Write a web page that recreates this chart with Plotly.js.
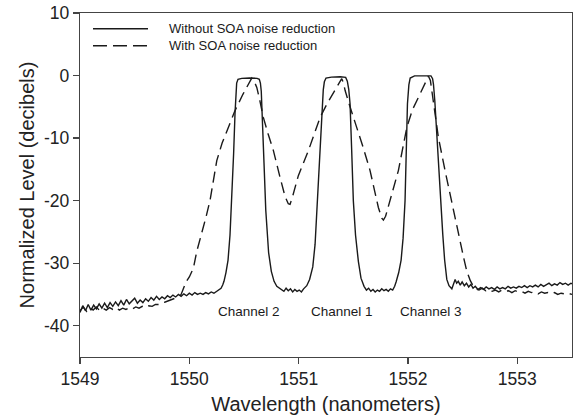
<!DOCTYPE html>
<html>
<head>
<meta charset="utf-8">
<script src="https://cdn.plot.ly/plotly-3.0.1.min.js"></script>
<style>html,body{margin:0;padding:0;background:#fff;}#chart{width:576px;height:417px;}</style>
</head>
<body>
<div id="chart"></div>
<script>
// Without SOA noise reduction (solid)
const solidX = [
1549.000,1549.025,1549.050,1549.075,1549.100,1549.125,1549.150,1549.175,1549.200,1549.225,
1549.250,1549.275,1549.300,1549.325,1549.350,1549.375,1549.400,1549.425,1549.450,1549.475,
1549.500,1549.525,1549.550,1549.575,1549.600,1549.625,1549.650,1549.675,1549.700,1549.725,
1549.750,1549.775,1549.800,1549.825,1549.850,1549.875,1549.900,1549.925,1549.950,1549.975,
1550.000,1550.025,1550.050,1550.075,1550.100,1550.125,1550.150,1550.175,1550.200,1550.225,
1550.250,1550.270,
1550.290,1550.305,1550.317,1550.335,1550.354,1550.372,1550.388,1550.405,1550.418,1550.426,
1550.433,1550.445,1550.480,1550.550,1550.620,1550.640,1550.650,1550.658,1550.666,1550.683,
1550.699,1550.712,1550.725,1550.750,1550.775,1550.800,1550.825,1550.845,
1550.865,1550.885,1550.905,1550.925,1550.945,1550.965,1550.985,1551.005,1551.025,1551.045,1551.060,
1551.074,1551.100,1551.129,1551.150,1551.171,1551.190,1551.211,1551.225,1551.235,1551.250,
1551.300,1551.380,1551.430,1551.445,1551.458,1551.470,1551.485,1551.500,1551.520,1551.546,
1551.570,1551.598,1551.620,
1551.640,1551.660,1551.680,1551.700,1551.720,1551.740,1551.760,1551.780,1551.800,1551.820,1551.840,1551.860,
1551.878,1551.891,1551.915,1551.937,1551.955,1551.973,1551.985,1551.995,1552.008,1552.020,
1552.060,1552.150,1552.210,1552.225,1552.233,1552.245,1552.264,1552.285,1552.303,1552.318,
1552.335,1552.355,1552.375,1552.401,1552.415,1552.431,1552.445,1552.460,1552.478,1552.495,
1552.515,1552.535,1552.555,1552.575,1552.595,1552.615,1552.640,
1552.665,1552.690,1552.715,1552.740,1552.765,1552.790,1552.815,1552.840,1552.865,1552.890,
1552.915,1552.940,1552.965,1552.990,1553.015,1553.040,1553.065,1553.090,1553.115,1553.140,
1553.165,1553.190,1553.215,1553.240,1553.265,1553.290,1553.315,1553.340,1553.365,1553.390,
1553.415,1553.440,1553.465,1553.490,1553.500];
const solidY = [
-37.9,-36.8,-37.6,-36.6,-37.5,-36.7,-37.3,-36.5,-37.2,-36.4,
-37.1,-36.3,-36.9,-36.2,-36.8,-36.0,-36.7,-35.8,-36.5,-36.1,
-35.6,-36.4,-35.9,-36.3,-35.7,-36.1,-35.5,-35.9,-35.3,-35.8,
-35.4,-35.7,-35.2,-35.5,-35.1,-35.4,-35.0,-35.3,-34.9,-35.2,
-34.8,-35.1,-34.7,-35.0,-34.8,-35.0,-34.7,-34.9,-34.6,-34.8,
-34.5,-34.3,
-34.0,-33.5,-32.9,-31.5,-29.5,-25.5,-20.0,-12.5,-6.0,-2.5,
-1.2,-0.6,-0.45,-0.4,-0.45,-0.6,-1.2,-2.5,-5.5,-14.0,
-21.5,-25.5,-28.3,-31.3,-32.9,-33.7,-34.0,-34.2,
-34.5,-34.0,-34.4,-34.1,-34.6,-34.2,-34.5,-34.3,-34.6,-34.1,-33.9,
-33.6,-32.6,-30.6,-27.0,-20.0,-12.5,-5.5,-2.3,-1.0,-0.4,
-0.25,-0.2,-0.3,-0.9,-2.2,-4.5,-12.0,-20.0,-25.5,-29.7,
-32.4,-33.7,-34.3,
-34.0,-34.5,-34.2,-34.6,-34.3,-34.5,-34.1,-34.4,-34.2,-34.5,-34.1,-34.3,
-33.7,-33.0,-31.5,-29.5,-26.0,-20.0,-12.0,-4.5,-1.5,-0.4,
-0.05,0.0,-0.05,-0.5,-1.4,-4.0,-9.9,-16.0,-21.7,-25.4,
-29.5,-32.6,-33.6,-34.1,-33.4,-32.6,-33.2,-32.9,-33.5,-33.0,
-33.6,-33.2,-33.8,-33.4,-34.0,-33.7,-34.2,
-33.9,-34.2,-33.8,-34.1,-33.9,-34.2,-33.8,-34.1,-33.9,-34.1,
-33.7,-34.0,-33.8,-34.0,-33.7,-33.9,-33.6,-33.9,-33.6,-33.8,
-33.5,-33.8,-33.4,-33.7,-33.5,-33.2,-33.6,-33.3,-33.5,-33.1,
-33.4,-33.2,-33.5,-33.2,-33.3];

// With SOA noise reduction (dashed)
const dashedX = [
1549.000,1549.030,1549.060,1549.090,1549.120,1549.150,1549.180,1549.210,1549.240,1549.270,
1549.300,1549.330,1549.360,1549.390,1549.420,1549.450,1549.480,1549.510,1549.540,1549.570,
1549.600,1549.630,1549.660,1549.690,1549.720,1549.750,1549.780,1549.810,1549.840,1549.870,
1549.900,1549.925,
1549.945,1549.970,1550.000,1550.037,1550.068,1550.113,1550.150,1550.189,1550.220,1550.251,
1550.300,1550.357,1550.418,1550.490,1550.540,1550.571,1550.595,1550.617,1550.645,1550.677,
1550.720,1550.769,1550.830,1550.875,1550.905,1550.921,1550.945,1550.997,1551.089,1551.196,
1551.260,1551.317,1551.365,1551.394,1551.410,1551.425,1551.470,1551.532,1551.590,1551.653,
1551.700,1551.729,1551.760,1551.775,1551.795,1551.836,1551.912,1551.989,1552.040,1552.095,
1552.150,1552.187,1552.205,1552.218,1552.245,1552.278,1552.339,1552.404,1552.440,1552.477,
1552.510,1552.538,1552.570,1552.598,1552.625,
1552.650,1552.680,1552.710,1552.740,1552.770,1552.800,1552.830,1552.860,1552.890,1552.920,
1552.950,1552.980,1553.010,1553.040,1553.070,1553.100,1553.130,1553.160,1553.190,1553.220,
1553.250,1553.280,1553.310,1553.340,1553.370,1553.400,1553.430,1553.460,1553.500];
const dashedY = [
-37.6,-37.0,-37.7,-37.1,-37.5,-37.0,-37.6,-37.2,-37.5,-37.1,
-37.4,-37.1,-37.5,-37.2,-37.4,-37.1,-37.3,-37.0,-37.2,-36.9,
-37.1,-36.8,-36.9,-36.6,-36.6,-36.3,-36.2,-36.0,-35.9,-35.6,
-35.4,-35.0,
-34.2,-33.0,-32.2,-30.8,-28.1,-25.4,-22.8,-20.0,-16.8,-13.6,
-10.8,-8.3,-5.6,-3.0,-1.3,-0.4,-1.0,-1.9,-4.0,-6.7,
-9.3,-12.0,-16.3,-19.3,-20.5,-20.6,-19.3,-16.0,-12.0,-6.7,
-4.5,-2.7,-1.3,-0.5,-1.2,-2.4,-5.0,-8.3,-11.5,-15.2,
-18.8,-21.1,-22.8,-23.1,-22.5,-20.0,-15.2,-8.3,-5.5,-3.5,
-1.6,-0.1,-0.8,-2.4,-5.5,-9.9,-15.2,-20.8,-23.6,-26.5,
-29.2,-31.3,-32.8,-33.7,-34.1,
-34.3,-34.0,-34.4,-34.2,-34.5,-34.3,-34.6,-34.3,-34.5,-34.4,
-34.7,-34.4,-34.6,-34.5,-34.8,-34.5,-34.7,-34.6,-34.9,-34.6,
-34.8,-34.7,-34.9,-34.7,-35.0,-34.8,-34.9,-34.8,-35.0];

const seriesNames = ['Without SOA noise reduction', 'With SOA noise reduction'];
const channelLabels = ['Channel 2', 'Channel 1', 'Channel 3'];
const channelX = [1550.546, 1551.394, 1552.207];
const channelY = [-37.7, -37.7, -37.7];
const xTicks = [1549, 1550, 1551, 1552, 1553];
const yTicks = [-40, -30, -20, -10, 0, 10];

const ink = '#1a1a1a';
const fontFam = '"Liberation Sans", Arial, sans-serif';

const traces = [
  {x: solidX, y: solidY, mode: 'lines', name: seriesNames[0],
   line: {color: ink, width: 1.4, dash: 'solid'}},
  {x: dashedX, y: dashedY, mode: 'lines', name: seriesNames[1],
   line: {color: ink, width: 1.4, dash: '11px,6px'}}
];

// plot area in pixels: left 80, right 572, top 13, bottom 357
const pxX = p => (p - 80) / 492;
const pxY = p => (357 - p) / 344;

const annotations = channelLabels.map((t, i) => ({
  x: channelX[i], y: channelY[i], xref: 'x', yref: 'y', text: t, showarrow: false,
  font: {family: fontFam, size: 13.5, color: ink}, xanchor: 'center', yanchor: 'middle'
}));
annotations.push(
  {x: pxX(167), y: pxY(28.7), xref: 'paper', yref: 'paper', text: seriesNames[0], showarrow: false,
   xanchor: 'left', yanchor: 'middle', font: {family: fontFam, size: 13, color: ink}},
  {x: pxX(167), y: pxY(45.7), xref: 'paper', yref: 'paper', text: seriesNames[1], showarrow: false,
   xanchor: 'left', yanchor: 'middle', font: {family: fontFam, size: 13, color: ink}}
);

const shapes = [
  {type: 'line', xref: 'paper', yref: 'paper', x0: pxX(93), x1: pxX(148), y0: pxY(28.7), y1: pxY(28.7),
   line: {color: ink, width: 1.4}},
  {type: 'line', xref: 'paper', yref: 'paper', x0: pxX(93), x1: pxX(148), y0: pxY(45.7), y1: pxY(45.7),
   line: {color: ink, width: 1.4, dash: '14px,6px'}}
];

const axisCommon = {
  showline: true, mirror: true, linecolor: '#444', linewidth: 1.2,
  ticks: 'outside', ticklen: 6, tickwidth: 1.2, tickcolor: '#444',
  showgrid: false, zeroline: false,
  tickfont: {family: fontFam, size: 17.5, color: '#222'}
};

const layout = {
  width: 576, height: 417,
  margin: {l: 80, r: 4, t: 13, b: 60},
  paper_bgcolor: '#fff', plot_bgcolor: '#fff',
  showlegend: false,
  font: {family: fontFam, color: ink},
  xaxis: Object.assign({}, axisCommon, {
    range: [1549, 1553.5], tickvals: xTicks, ticktext: xTicks.map(String),
    title: {text: 'Wavelength (nanometers)', font: {family: fontFam, size: 20, color: '#222'}, standoff: 8}
  }),
  yaxis: Object.assign({}, axisCommon, {
    range: [-45, 10], tickvals: yTicks, ticktext: yTicks.map(String),
    title: {text: 'Normalized Level (decibels)', font: {family: fontFam, size: 20, color: '#222'}, standoff: 4}
  }),
  annotations: annotations,
  shapes: shapes
};

Plotly.newPlot('chart', traces, layout, {displayModeBar: false, staticPlot: true});
</script>
</body>
</html>
